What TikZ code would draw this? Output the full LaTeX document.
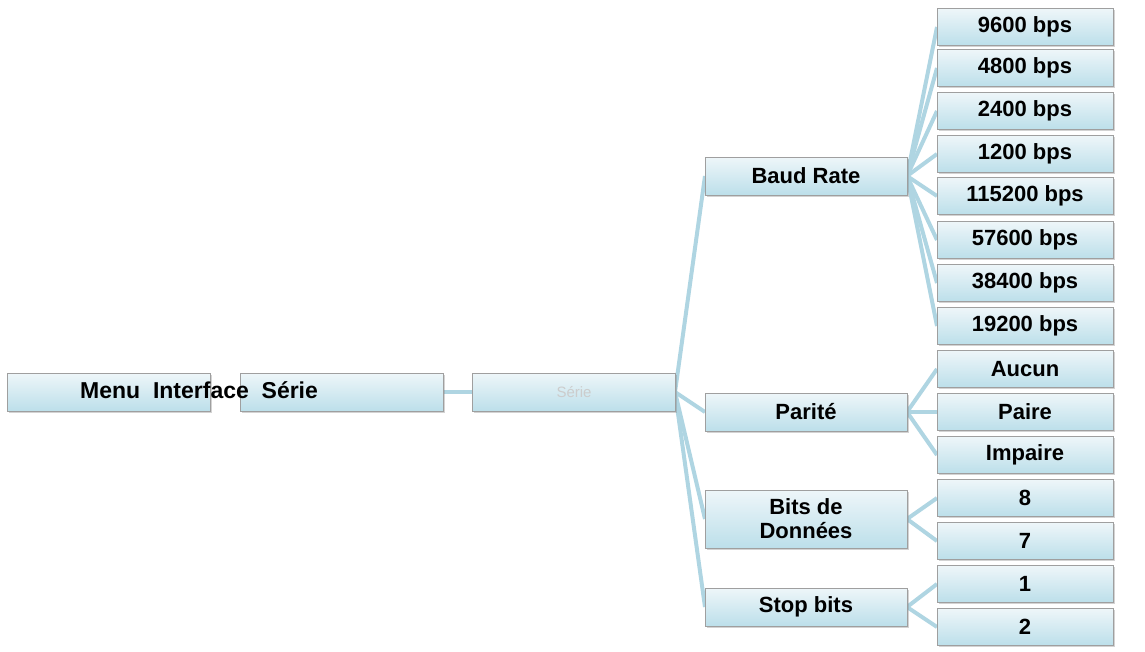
\documentclass[tikz,border=0pt]{standalone}
\usepackage{fontspec}
\setmainfont{Liberation Sans}
\usetikzlibrary{shadows}
\definecolor{lnk}{HTML}{AFD5E2}
\definecolor{tp}{HTML}{EEF6F9}
\definecolor{bt}{HTML}{BCDFEA}
\begin{document}
\begin{tikzpicture}[x=1pt,y=-1pt,
  bx/.style={draw=gray!75, top color=tp, bottom color=bt, minimum height=38pt, inner sep=0pt, font=\fontsize{22}{24}\selectfont\bfseries, drop shadow={shadow xshift=1.5pt, shadow yshift=-1.5pt, opacity=0.35}, align=center},
  l1/.style={bx, minimum width=203pt},
  l2/.style={bx, minimum width=202pt},
  l3/.style={bx, minimum width=176pt},
  lk/.style={draw=lnk, line width=4pt}]
\useasboundingbox (0,0) rectangle (1145,651);
\draw[lk] (443,392) -- (473,392);
\foreach \y in {176,412,519,607} \draw[lk] (675,392) -- (705,\y);
\foreach \y in {27,68,111,154,196,240,283,326} \draw[lk] (907,176) -- (937,\y);
\foreach \y in {369,412,455} \draw[lk] (907,412) -- (937,\y);
\foreach \y in {498,541} \draw[lk] (907,519) -- (937,\y);
\foreach \y in {584,627} \draw[lk] (907,607) -- (937,\y);
% level 1
\node[l1] (n1) at (109,392) {};
\node[l1] (n2) at (341.5,392) {};
\node[l1] (n3) at (574,392) {\textcolor{gray!40}{\mdseries\fontsize{15}{17}\selectfont Série}};
\node[font=\fontsize{23}{25}\selectfont\bfseries, anchor=west, inner sep=0pt] (t1) at (80,390) {Menu\ \ Interface\ \ Série};
% level 2
\node[l2] (baud) at (806,176) {Baud Rate};
\node[l2] (par) at (806,412) {Parité};
\node[l2, minimum height=58pt] (bits) at (806,519) {Bits de\\Données};
\node[l2] (stop) at (806,607) {Stop bits};
% level 3
\foreach \n/\y/\t in {a/27/9600 bps, b/68/4800 bps, c/111/2400 bps, d/154/1200 bps, e/196/115200 bps, f/240/57600 bps, g/283/38400 bps, h/326/19200 bps, i/369/Aucun, j/412/Paire, k/455/Impaire, l/498/8, m/541/7, o/584/1, q/627/2}
  \node[l3, minimum height=37pt] (\n) at (1025,\y) {\t};
\end{tikzpicture}
\end{document}
